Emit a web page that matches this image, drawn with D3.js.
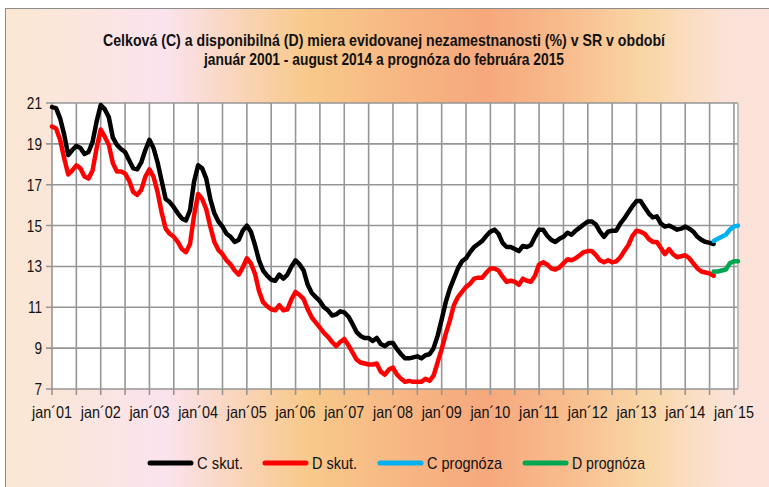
<!DOCTYPE html>
<html>
<head>
<meta charset="utf-8">
<script src="https://cdn.jsdelivr.net/npm/d3@7"></script>
<style>
  body { margin: 0; background: #fff; }
  svg text { font-family: 'Liberation Sans Narrow', 'Arial Narrow', 'Liberation Sans', sans-serif; fill: #111; }
</style>
</head>
<body>
<svg id="chart" width="769" height="487"></svg>
<script>
// monthly values jan 2001 - aug 2014
const cSkut = [
  20.8, 20.75, 20.25, 19.45, 18.45, 18.7, 18.9, 18.8, 18.5, 18.6, 19.1, 20.1,
  20.9, 20.7, 20.3, 19.3, 18.95, 18.75, 18.6, 18.2, 17.8, 17.75, 18.1, 18.7,
  19.2, 18.8, 18.1, 17.2, 16.3, 16.15, 15.9, 15.6, 15.35, 15.25, 15.75, 17.15,
  17.95, 17.8, 17.3, 16.3, 15.6, 15.2, 14.95, 14.6, 14.45, 14.2, 14.3, 14.75,
  15.0, 14.7, 14.05, 13.3, 12.8, 12.55, 12.35, 12.3, 12.6, 12.4, 12.6, 13.0,
  13.3, 13.1, 12.8, 12.1, 11.7, 11.5, 11.3, 11.0, 10.85, 10.6, 10.65, 10.8,
  10.75, 10.55, 10.2, 9.8, 9.6, 9.5, 9.5, 9.35, 9.5, 9.2, 9.1, 9.25,
  9.25, 8.95, 8.7, 8.5, 8.5, 8.55, 8.6, 8.5, 8.65, 8.7, 9.0, 9.6,
  10.4, 11.25, 11.9, 12.4, 12.9, 13.25, 13.4, 13.7, 13.95, 14.1, 14.25, 14.5,
  14.7, 14.8, 14.6, 14.15, 13.95, 13.95, 13.85, 13.75, 14.0, 13.95, 14.05, 14.45,
  14.8, 14.8, 14.5, 14.3, 14.2, 14.35, 14.45, 14.65, 14.55, 14.75, 14.9, 15.05,
  15.2, 15.2, 15.05, 14.7, 14.45, 14.7, 14.75, 14.75, 15.1, 15.35, 15.65, 15.95,
  16.2, 16.2, 15.9, 15.6, 15.4, 15.45, 15.1, 14.95, 15.0, 14.9, 14.8, 14.85,
  14.95, 14.85, 14.7, 14.45, 14.3, 14.2, 14.15, 14.1
];
const dSkut = [
  19.85, 19.75, 19.2, 18.3, 17.5, 17.7, 17.95, 17.8, 17.4, 17.3, 17.7, 18.8,
  19.7, 19.35, 18.95, 18.05, 17.65, 17.65, 17.55, 17.2, 16.65, 16.5, 16.75, 17.4,
  17.75, 17.4, 16.65, 15.65, 14.85, 14.6, 14.45, 14.2, 13.85, 13.7, 14.1, 15.5,
  16.55, 16.3, 15.8, 14.95, 14.2, 13.8, 13.6, 13.3, 13.1, 12.8, 12.6, 12.95,
  13.4, 13.15, 12.65, 11.8, 11.25, 11.05, 10.9, 10.85, 11.1, 10.85, 10.9, 11.4,
  11.75, 11.6, 11.4, 10.9, 10.5, 10.25, 10.0, 9.75, 9.55, 9.3, 9.1, 9.3,
  9.45, 9.15, 8.8, 8.45, 8.3, 8.25, 8.2, 8.2, 8.25, 7.85, 7.7, 7.95,
  8.05, 7.7, 7.5, 7.35, 7.4, 7.35, 7.35, 7.35, 7.5, 7.4, 7.65, 8.3,
  8.95, 9.7, 10.35, 11.1, 11.5, 11.75, 12.0, 12.15, 12.4, 12.45, 12.45, 12.7,
  12.9, 12.9, 12.8, 12.5, 12.25, 12.3, 12.25, 12.1, 12.4, 12.3, 12.25, 12.55,
  13.1, 13.2, 13.1, 12.9, 12.85, 12.95, 13.15, 13.35, 13.3, 13.4, 13.55, 13.7,
  13.75, 13.75, 13.55, 13.3, 13.2, 13.3, 13.2, 13.25, 13.45, 13.75, 14.05, 14.5,
  14.75, 14.7, 14.6, 14.35, 14.2, 14.2, 13.9, 13.6, 13.85, 13.6, 13.45, 13.5,
  13.55, 13.4, 13.15, 12.9, 12.75, 12.7, 12.65, 12.55
];
// forecast aug 2014 - feb 2015
const cPrognoza = [14.25, 14.35, 14.45, 14.55, 14.8, 14.95, 15.0];
const dPrognoza = [12.75, 12.75, 12.8, 12.85, 13.15, 13.25, 13.25];
const prognozaStart = 163;
const monthCount = 170;

const yTicks = [7, 9, 11, 13, 15, 17, 19, 21];
const xLabels = ['jan´01', 'jan´02', 'jan´03', 'jan´04', 'jan´05', 'jan´06', 'jan´07',
  'jan´08', 'jan´09', 'jan´10', 'jan´11', 'jan´12', 'jan´13', 'jan´14', 'jan´15'];
const titleLines = [
  'Celková (C) a disponibilná (D) miera evidovanej nezamestnanosti (%) v SR v období',
  'január 2001 - august 2014 a prognóza do februára 2015'
];
const legendItems = [
  { name: 'C skut.', color: '#000000' },
  { name: 'D skut.', color: '#ff0000' },
  { name: 'C prognóza', color: '#00b0f0' },
  { name: 'D prognóza', color: '#00a651' }
];

const svg = d3.select('#chart');
const margin = { left: 52, right: 738, top: 103, bottom: 389 };

// narrow look: squeeze regular glyphs
function condense(sel, factor) {
  sel.each(function () {
    const w = this.getComputedTextLength();
    d3.select(this).attr('textLength', w * factor).attr('lengthAdjust', 'spacingAndGlyphs');
  });
}

// background gradient
const defs = svg.append('defs');
const grad = defs.append('linearGradient').attr('id', 'bg').attr('x1', '0').attr('x2', '1').attr('y1', '0').attr('y2', '0');
[
  [0, '#fbe7d2'], [0.08, '#fbe6dc'], [0.2, '#fbe3ee'], [0.3, '#f9d3b4'],
  [0.38, '#f8c98a'], [0.5, '#f7b683'], [0.6, '#f6a87c'], [0.7, '#f8bc8d'],
  [0.8, '#fad6a6'], [0.9, '#fbe2d6'], [1, '#fde2df']
].forEach(s => grad.append('stop').attr('offset', s[0]).attr('stop-color', s[1]));

svg.append('rect')
  .attr('x', 5.5).attr('y', 8.5).attr('width', 800).attr('height', 520)
  .attr('fill', 'url(#bg)').attr('stroke', '#8c8c8c').attr('stroke-width', 1);

const x = d3.scaleLinear().domain([0, monthCount - 1]).range([margin.left, margin.right]);
const y = d3.scaleLinear().domain([7, 21]).range([margin.bottom, margin.top]);

// plot area
svg.append('rect')
  .attr('x', margin.left).attr('y', margin.top)
  .attr('width', margin.right - margin.left).attr('height', margin.bottom - margin.top)
  .attr('fill', '#fff');

const gridColor = '#969696';
const halfYears = d3.range(0, monthCount, 6);

svg.append('g')
  .selectAll('line')
  .data(halfYears)
  .join('line')
  .attr('x1', d => x(d)).attr('x2', d => x(d))
  .attr('y1', margin.top).attr('y2', margin.bottom + 6)
  .attr('stroke', gridColor).attr('stroke-width', 1.6);

svg.append('g')
  .selectAll('line')
  .data(yTicks)
  .join('line')
  .attr('x1', margin.left - 6).attr('x2', margin.right)
  .attr('y1', d => y(d)).attr('y2', d => y(d))
  .attr('stroke', gridColor).attr('stroke-width', 1.6);

// right border
svg.append('line')
  .attr('x1', margin.right).attr('x2', margin.right)
  .attr('y1', margin.top).attr('y2', margin.bottom)
  .attr('stroke', '#b4b4b4').attr('stroke-width', 1.6);

// y labels
svg.append('g')
  .selectAll('text')
  .data(yTicks)
  .join('text')
  .attr('x', 42).attr('y', d => y(d) + 6)
  .attr('text-anchor', 'end')
  .style('font-size', '17px')
  .text(d => d)
  .call(condense, 0.8);

// x labels
svg.append('g')
  .selectAll('text')
  .data(xLabels)
  .join('text')
  .attr('x', (d, i) => x(i * 12)).attr('y', 418)
  .attr('text-anchor', 'middle')
  .style('font-size', '16.5px')
  .text(d => d)
  .attr('textLength', 40).attr('lengthAdjust', 'spacingAndGlyphs');

// series
const line = offset => d3.line().x((d, i) => x(i + offset)).y(d => y(d));
const series = [
  { values: cSkut, offset: 0, color: legendItems[0].color },
  { values: dSkut, offset: 0, color: legendItems[1].color },
  { values: cPrognoza, offset: prognozaStart, color: legendItems[2].color },
  { values: dPrognoza, offset: prognozaStart, color: legendItems[3].color }
];
svg.append('g')
  .selectAll('path')
  .data(series)
  .join('path')
  .attr('d', s => line(s.offset)(s.values))
  .attr('fill', 'none')
  .attr('stroke', s => s.color)
  .attr('stroke-width', 4.5)
  .attr('stroke-linejoin', 'round')
  .attr('stroke-linecap', 'round');

// title
const titleWidths = [562, 360];
svg.append('g')
  .selectAll('text')
  .data(titleLines)
  .join('text')
  .attr('x', 384).attr('y', (d, i) => 46 + i * 19)
  .attr('text-anchor', 'middle')
  .style('font-size', '16.5px')
  .style('font-weight', 'bold')
  .text(d => d)
  .attr('textLength', (d, i) => titleWidths[i]).attr('lengthAdjust', 'spacingAndGlyphs');

// legend
const legendX = [150, 265, 380, 525];
const legendWidths = [46, 45, 75, 73];
const legend = svg.append('g')
  .selectAll('g')
  .data(legendItems)
  .join('g')
  .attr('transform', (d, i) => `translate(${legendX[i]},463)`);
legend.append('line')
  .attr('x1', 0).attr('x2', 41)
  .attr('stroke', d => d.color).attr('stroke-width', 5).attr('stroke-linecap', 'round');
legend.append('text')
  .attr('x', 47).attr('y', 6)
  .style('font-size', '17px')
  .text(d => d.name)
  .attr('textLength', (d, i) => legendWidths[i]).attr('lengthAdjust', 'spacingAndGlyphs');
</script>
</body>
</html>
